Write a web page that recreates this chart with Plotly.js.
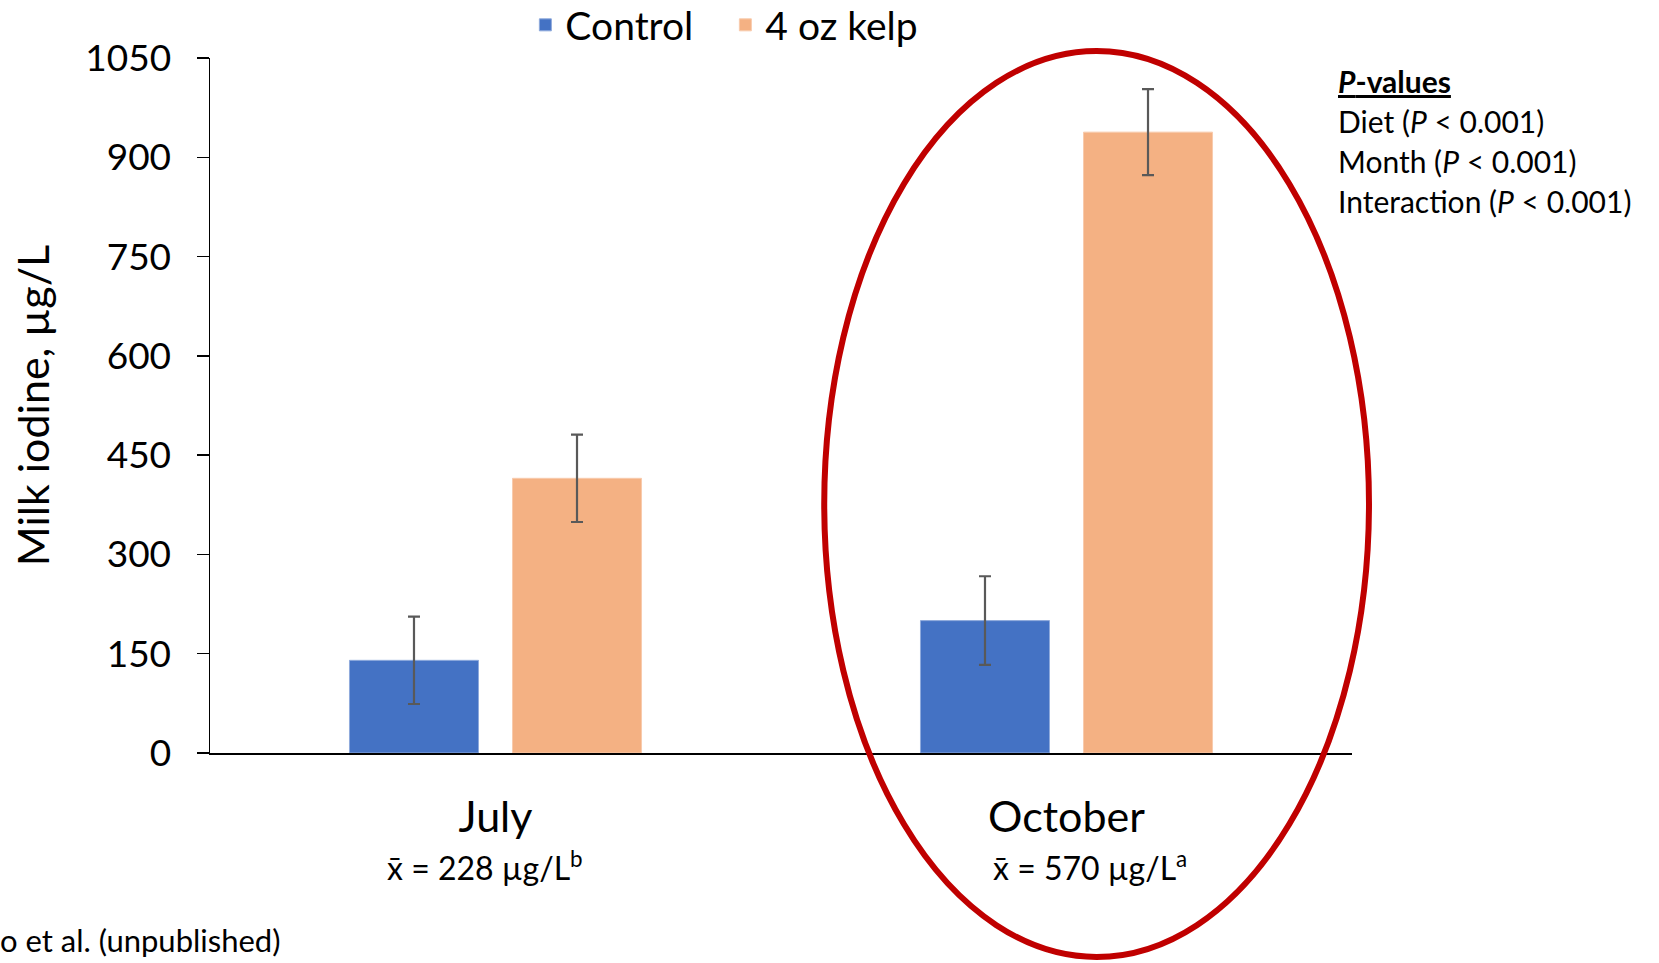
<!DOCTYPE html>
<html>
<head>
<meta charset="utf-8">
<script src="https://cdn.plot.ly/plotly-3.0.1.min.js"></script>
<style>html,body{margin:0;padding:0;background:#fff;}#chart{width:1659px;height:963px;}</style>
</head>
<body>
<div id="chart"></div>
<script>
const months = ["July", "October"];
const seriesNames = ["Control", "4 oz kelp"];
const controlValues = [140, 200];
const controlSE = [66, 67];
const kelpValues = [415, 938];
const kelpSE = [66, 65];
const monthMeans = ["x̄ = 228 µg/L<sup>b</sup>", "x̄ = 570 µg/L<sup>a</sup>"];
const yTicks = [0, 150, 300, 450, 600, 750, 900, 1050];
const pValueLines = ["<b><i>P</i>-values</b>", "Diet (<i>P</i> < 0.001)", "Month (<i>P</i> < 0.001)", "Interaction (<i>P</i> < 0.001)"];
const sourceNote = "o et al. (unpublished)";

const FONT = "Lato, 'Open Sans', sans-serif";
const W = 1659, H = 963;
const L = 209.5, R = 1352, T = 58, B = 753;
const px2x = p => (p - L) / (R - L);
const px2y = p => (B - p) / (B - T);

const errStyle = {type: 'data', visible: true, color: '#595959', thickness: 2.2, width: 6};

const traces = [
  {type: 'bar', name: seriesNames[0], x: months, y: controlValues,
   marker: {color: '#4472C4', line: {color: '#8FAADC', width: 1}},
   error_y: Object.assign({array: controlSE}, errStyle)},
  {type: 'bar', name: seriesNames[1], x: months, y: kelpValues,
   marker: {color: '#F4B183', line: {color: '#F8CBAD', width: 1}},
   error_y: Object.assign({array: kelpSE}, errStyle)}
];

const annotations = [];
monthMeans.forEach((t, i) => {
  annotations.push({xref: 'x', yref: 'paper', x: i, y: px2y(866), text: t, showarrow: false,
    xanchor: 'center', yanchor: 'middle', xshift: i === 0 ? -11 : 23,
    font: {family: FONT, size: 32, color: '#000'}});
});
pValueLines.forEach((t, i) => {
  annotations.push({xref: 'paper', yref: 'paper', x: px2x(1336), y: px2y(81 + i * 40), text: i === 0 ? '<u>' + t + '</u>' : t,
    showarrow: false, xanchor: 'left', yanchor: 'middle', align: 'left',
    font: {family: FONT, size: 30, color: '#000'}});
});
annotations.push({xref: 'paper', yref: 'paper', x: px2x(0), y: px2y(940), xshift: -3, text: sourceNote, showarrow: false,
  xanchor: 'left', yanchor: 'middle', font: {family: FONT, size: 31, color: '#000'}});

const layout = {
  width: W, height: H,
  margin: {l: L, r: W - R, t: T, b: H - B, pad: 0, autoexpand: false},
  paper_bgcolor: '#fff', plot_bgcolor: '#fff',
  barmode: 'group', bargap: 0.429, bargroupgap: 0.2086,
  showlegend: true,
  legend: {orientation: 'h', x: px2x(525), y: px2y(25), xanchor: 'left', yanchor: 'middle',
    font: {family: FONT, size: 39, color: '#000'}, itemwidth: 30, traceorder: 'normal',
    entrywidth: 155, entrywidthmode: 'pixels'},
  xaxis: {type: 'category', showline: true, linecolor: '#000', linewidth: 1.5, ticks: '',
    tickfont: {family: FONT, size: 43, color: '#000'}, ticklabelstandoff: 26,
    showgrid: false, zeroline: false, fixedrange: true},
  yaxis: {range: [0, 1050], tickvals: yTicks, ticktext: yTicks.map(String), showline: true, linecolor: '#000', linewidth: 1.5,
    ticks: 'outside', ticklen: 12, tickcolor: '#000', tickwidth: 1.5,
    tickfont: {family: FONT, size: 37, color: '#000'}, ticklabelstandoff: 18,
    showgrid: false, zeroline: false,
    title: {text: 'Milk iodine, µg/L', font: {family: FONT, size: 43, color: '#000'}, standoff: 22}},
  shapes: [{type: 'circle', xref: 'paper', yref: 'paper', x0: px2x(824), x1: px2x(1369), y0: px2y(957), y1: px2y(51),
    line: {color: '#C00000', width: 6}, layer: 'above'}],
  annotations: annotations,
  font: {family: FONT, color: '#000'}
};

Plotly.newPlot('chart', traces, layout, {displayModeBar: false, staticPlot: true});
</script>
</body>
</html>
